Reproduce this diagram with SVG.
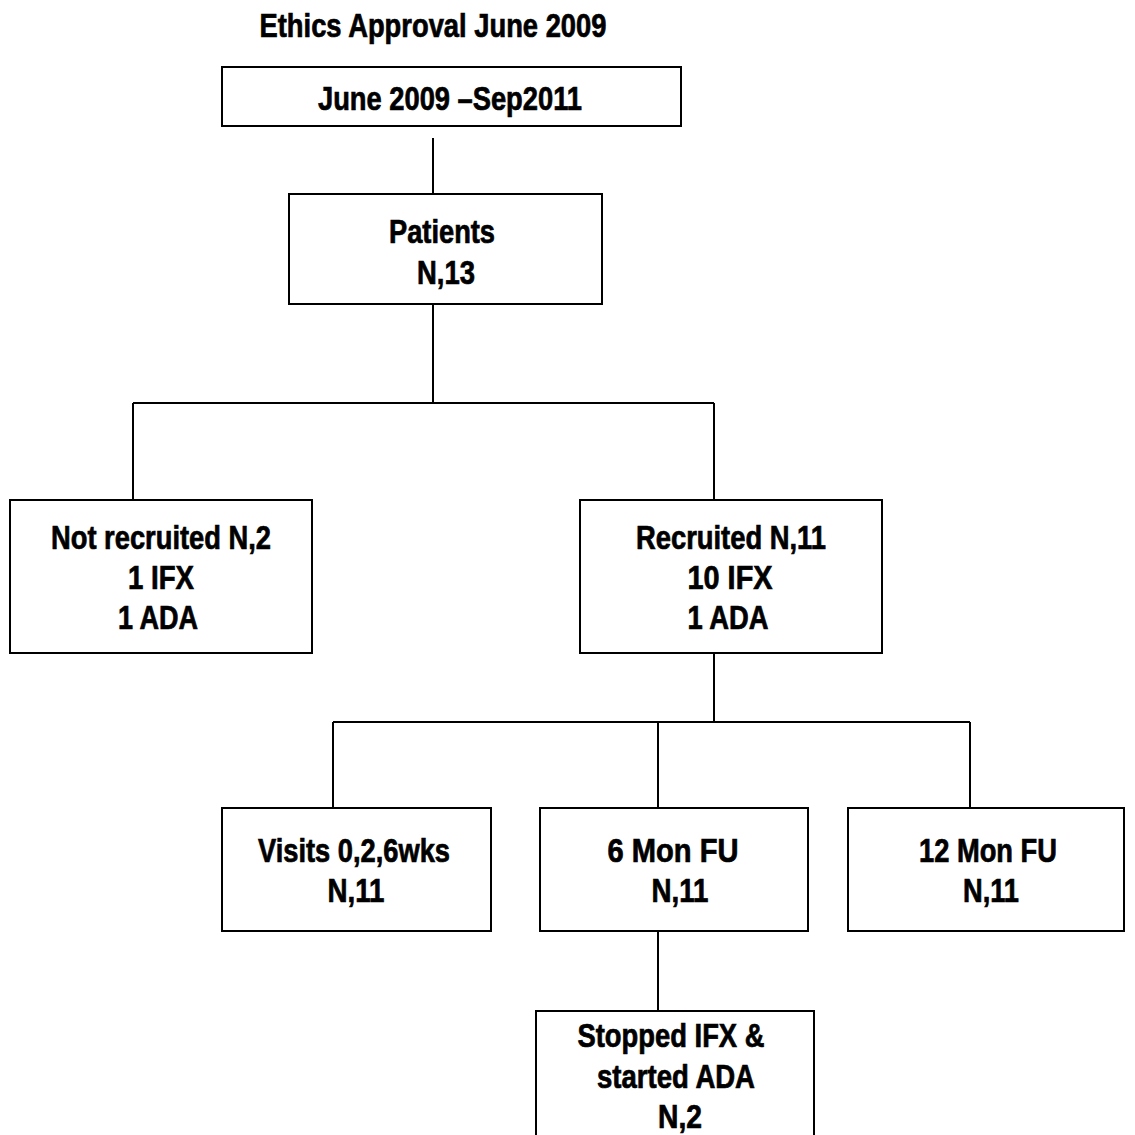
<svg xmlns="http://www.w3.org/2000/svg" width="1135" height="1135" viewBox="0 0 1135 1135">
<style>
.box{fill:#fff;stroke:#000;stroke-width:2}
.t{font-family:"Liberation Sans",Arial,sans-serif;font-weight:bold;font-size:33px;fill:#000;stroke:#000;stroke-width:0.7;text-anchor:middle}
.c{fill:none;stroke:#000;stroke-width:2}
</style>
<rect width="1135" height="1135" fill="#fff"/>
<g id="connectors">
<path class="c" d="M433 138V194"/>
<path class="c" d="M433 304V403M133 403H714M133 403V500M714 403V500"/>
<path class="c" d="M714 653V722M333 722H970M333 722V808M658 722V808M970 722V808"/>
<path class="c" d="M658 928V1011"/>
</g>
<g id="title">
<text class="t" x="433" y="37" textLength="347" lengthAdjust="spacingAndGlyphs">Ethics Approval June 2009</text>
</g>
<g id="n-period">
<rect class="box" x="222" y="67" width="459" height="59"/>
<text class="t" x="450" y="110" textLength="264" lengthAdjust="spacingAndGlyphs">June 2009 –Sep2011</text>
</g>
<g id="n-patients">
<rect class="box" x="289" y="194" width="313" height="110"/>
<text class="t" x="442" y="243" textLength="106" lengthAdjust="spacingAndGlyphs">Patients</text>
<text class="t" x="446" y="284" textLength="58" lengthAdjust="spacingAndGlyphs">N,13</text>
</g>
<g id="n-notrecruited">
<rect class="box" x="10" y="500" width="302" height="153"/>
<text class="t" x="161" y="549" textLength="220" lengthAdjust="spacingAndGlyphs">Not recruited N,2</text>
<text class="t" x="161" y="589" textLength="66" lengthAdjust="spacingAndGlyphs">1 IFX</text>
<text class="t" x="158" y="629" textLength="80" lengthAdjust="spacingAndGlyphs">1 ADA</text>
</g>
<g id="n-recruited">
<rect class="box" x="580" y="500" width="302" height="153"/>
<text class="t" x="731" y="549" textLength="190" lengthAdjust="spacingAndGlyphs">Recruited N,11</text>
<text class="t" x="730" y="589" textLength="85" lengthAdjust="spacingAndGlyphs">10 IFX</text>
<text class="t" x="728" y="629" textLength="81" lengthAdjust="spacingAndGlyphs">1 ADA</text>
</g>
<g id="n-visits">
<rect class="box" x="222" y="808" width="269" height="123"/>
<text class="t" x="354" y="862" textLength="192" lengthAdjust="spacingAndGlyphs">Visits 0,2,6wks</text>
<text class="t" x="356" y="902" textLength="57" lengthAdjust="spacingAndGlyphs">N,11</text>
</g>
<g id="n-6mon">
<rect class="box" x="540" y="808" width="268" height="123"/>
<text class="t" x="673" y="862" textLength="131" lengthAdjust="spacingAndGlyphs">6 Mon FU</text>
<text class="t" x="680" y="902" textLength="57" lengthAdjust="spacingAndGlyphs">N,11</text>
</g>
<g id="n-12mon">
<rect class="box" x="848" y="808" width="276" height="123"/>
<text class="t" x="988" y="862" textLength="138" lengthAdjust="spacingAndGlyphs">12 Mon FU</text>
<text class="t" x="991" y="902" textLength="56" lengthAdjust="spacingAndGlyphs">N,11</text>
</g>
<g id="n-stopped">
<rect class="box" x="536" y="1011" width="278" height="140"/>
<text class="t" x="671" y="1047" textLength="187" lengthAdjust="spacingAndGlyphs">Stopped IFX &amp;</text>
<text class="t" x="676" y="1088" textLength="158" lengthAdjust="spacingAndGlyphs">started ADA</text>
<text class="t" x="680" y="1128" textLength="44" lengthAdjust="spacingAndGlyphs">N,2</text>
</g>
</svg>
